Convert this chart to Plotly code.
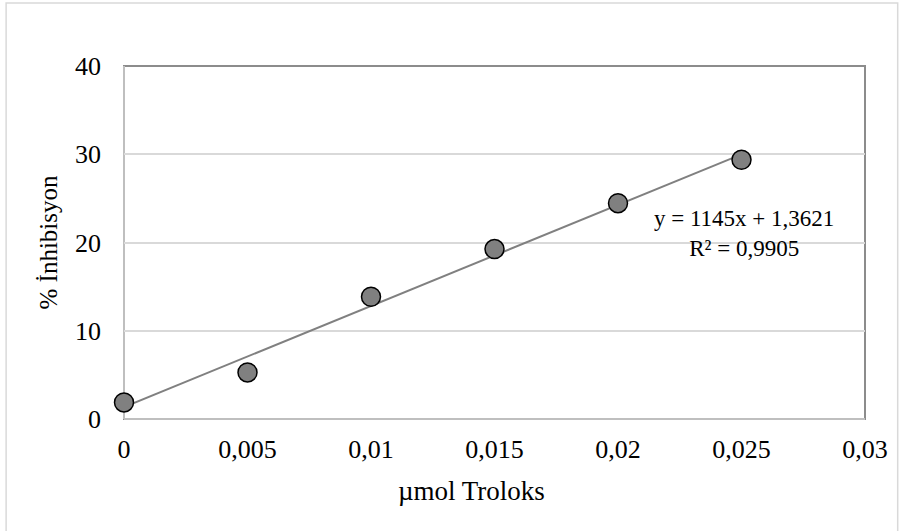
import plotly.graph_objects as go

# Data
x_vals = [0, 0.005, 0.01, 0.015, 0.02, 0.025]
y_vals = [1.88, 5.28, 13.85, 19.25, 24.46, 29.37]
slope = 1145
intercept = 1.3621
trend_x = [0, 0.025]
x_tickvals = [0, 0.005, 0.01, 0.015, 0.02, 0.025, 0.03]
x_ticktext = ["0", "0,005", "0,01", "0,015", "0,02", "0,025", "0,03"]
y_tickvals = [0, 10, 20, 30, 40]
y_ticktext = ["0", "10", "20", "30", "40"]
eq_text = "y = 1145x + 1,3621<br>R² = 0,9905"

W, H = 900, 531
L, R, T, B = 124, 872, 66, 419

FONT = "Liberation Serif, Times New Roman, serif"

fig = go.Figure()
fig.add_trace(go.Scatter(
    x=trend_x, y=[slope * v + intercept for v in trend_x],
    mode="lines", line=dict(color="#808080", width=2),
    hoverinfo="skip", showlegend=False))
fig.add_trace(go.Scatter(
    x=x_vals, y=y_vals, mode="markers",
    marker=dict(size=19, color="#808080", line=dict(color="#000000", width=1.5)),
    showlegend=False, cliponaxis=False))

def px_x(p):
    return (p - L) / (R - L)

def px_y(p):
    return (B - p) / (B - T)

shapes = [
    # outer chart border
    dict(type="rect", xref="paper", yref="paper",
         x0=px_x(5), x1=px_x(905), y0=px_y(535), y1=px_y(3),
         line=dict(color="#d9d9d9", width=1.5), layer="below"),
    # plot area border (top/right darker)
    dict(type="rect", xref="paper", yref="paper", x0=0, x1=1, y0=0, y1=1,
         line=dict(color="#8c8c8c", width=2), layer="below"),
    # axis lines lighter
    dict(type="line", xref="paper", yref="paper", x0=0, x1=0, y0=0, y1=1,
         line=dict(color="#bfbfbf", width=2), layer="below"),
    dict(type="line", xref="paper", yref="paper", x0=0, x1=1, y0=0, y1=0,
         line=dict(color="#bfbfbf", width=2), layer="below"),
]

fig.update_layout(
    width=W, height=H,
    margin=dict(l=L, r=W - R, t=T, b=H - B),
    paper_bgcolor="white", plot_bgcolor="white",
    font=dict(family=FONT, color="#000000"),
    shapes=shapes,
    xaxis=dict(range=[0, 0.03], tickvals=x_tickvals, ticktext=x_ticktext,
               showgrid=False, zeroline=False, showline=False,
               ticks="", ticklabelstandoff=12,
               tickfont=dict(size=26, family=FONT, color="#000000")),
    yaxis=dict(range=[0, 40], tickvals=y_tickvals, ticktext=y_ticktext,
               showgrid=True, gridcolor="#d9d9d9", gridwidth=1.5,
               zeroline=False, showline=False, ticks="", ticklabelstandoff=22,
               tickfont=dict(size=26, family=FONT, color="#000000"),
               title=dict(text="% İnhibisyon",
                          font=dict(size=25, family=FONT, color="#000000"),
                          standoff=10)),
    annotations=[
        dict(text="µmol Troloks", xref="paper", yref="paper",
             x=px_x(475), y=px_y(508), showarrow=False,
             font=dict(size=27, family=FONT, color="#000000")),
        dict(text=eq_text, xref="x", yref="y",
             x=0.0251, y=(B - 233) / (B - T) * 40, showarrow=False,
             xanchor="center", yanchor="middle", align="center",
             font=dict(size=23, family=FONT, color="#000000")),
    ],
)

fig.write_html(
    "out.html",
    config={"displayModeBar": False},
    post_script=(
        "document.body.style.margin='0';"
        "document.body.style.overflow='hidden';"
        "document.documentElement.style.overflow='hidden';"
    ),
)
